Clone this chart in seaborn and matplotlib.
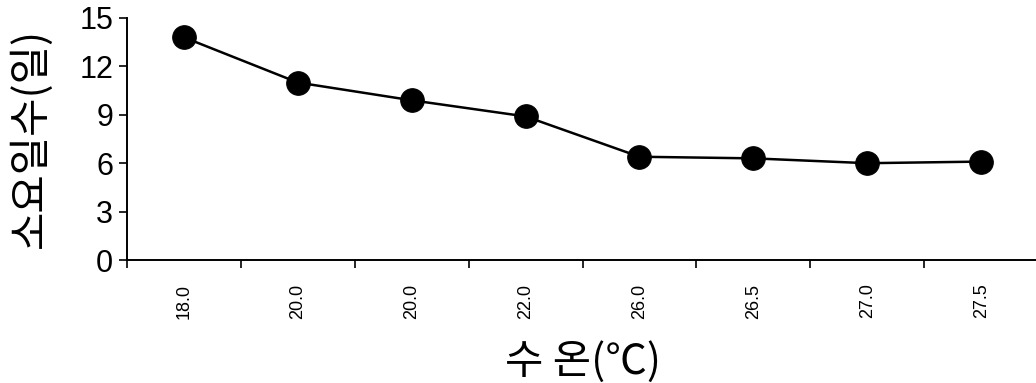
import numpy as np
import matplotlib
matplotlib.use("Agg")
import matplotlib.pyplot as plt
import seaborn as sns
import pandas as pd

temps = ["18.0", "20.0", "20.0", "22.0", "26.0", "26.5", "27.0", "27.5"]
days = [13.8, 11.0, 9.9, 8.9, 6.4, 6.3, 6.0, 6.1]
yticks = [0, 3, 6, 9, 12, 15]

sns.set_theme(style="white")
plt.rcParams['font.family'] = ['Liberation Sans', 'DejaVu Sans']
plt.rcParams['text.color'] = 'black'
plt.rcParams['xtick.color'] = 'black'
plt.rcParams['ytick.color'] = 'black'

df = pd.DataFrame({"pos": np.arange(len(temps)), "days": days})

fig = plt.figure(figsize=(10.36, 3.83), dpi=100)
ax = fig.add_axes([127/1036, 1 - 260/383, 1 - 127/1036 + 0.002, (260 - 18)/383])

sns.lineplot(data=df, x="pos", y="days", ax=ax, color="black", lw=1.8,
             marker="o", markersize=17, markerfacecolor="black",
             markeredgecolor="black")

ax.set_xlim(-0.5, len(temps) - 0.5)
ax.set_ylim(0, 15)
ax.set_yticks(yticks)
ax.set_yticklabels([str(v) for v in yticks], fontsize=22)
ax.set_xticks(np.arange(len(temps)))
ax.set_xticklabels(temps, rotation=90, fontsize=13)
ax.set_xticks(np.arange(len(temps) + 1) - 0.5, minor=True)

ax.tick_params(axis="x", which="major", length=0, pad=17)
ax.tick_params(axis="x", which="minor", length=6, width=1.2, color="black", bottom=True, direction="out")
ax.tick_params(axis="y", which="major", length=6, width=1.2, color="black", left=True, direction="out", pad=4)

for s in ["top", "right"]:
    ax.spines[s].set_visible(False)
for s in ["left", "bottom"]:
    ax.spines[s].set_color("black")
    ax.spines[s].set_linewidth(1.4)

ax.set_xlabel("")
ax.set_ylabel("")
ax.grid(False)

fig.text(31/1036, 1 - 138/383, "소요일수(일)", rotation=90, ha="center", va="center",
         fontsize=30, color="black", family=['Noto Sans CJK KR', 'DejaVu Sans'])
fig.text(583/1036, 1 - 362/383, "수 온(℃)", ha="center", va="center",
         fontsize=30, color="black", family=['Noto Sans CJK KR', 'DejaVu Sans'])

fig.savefig("out.png", dpi=100)
